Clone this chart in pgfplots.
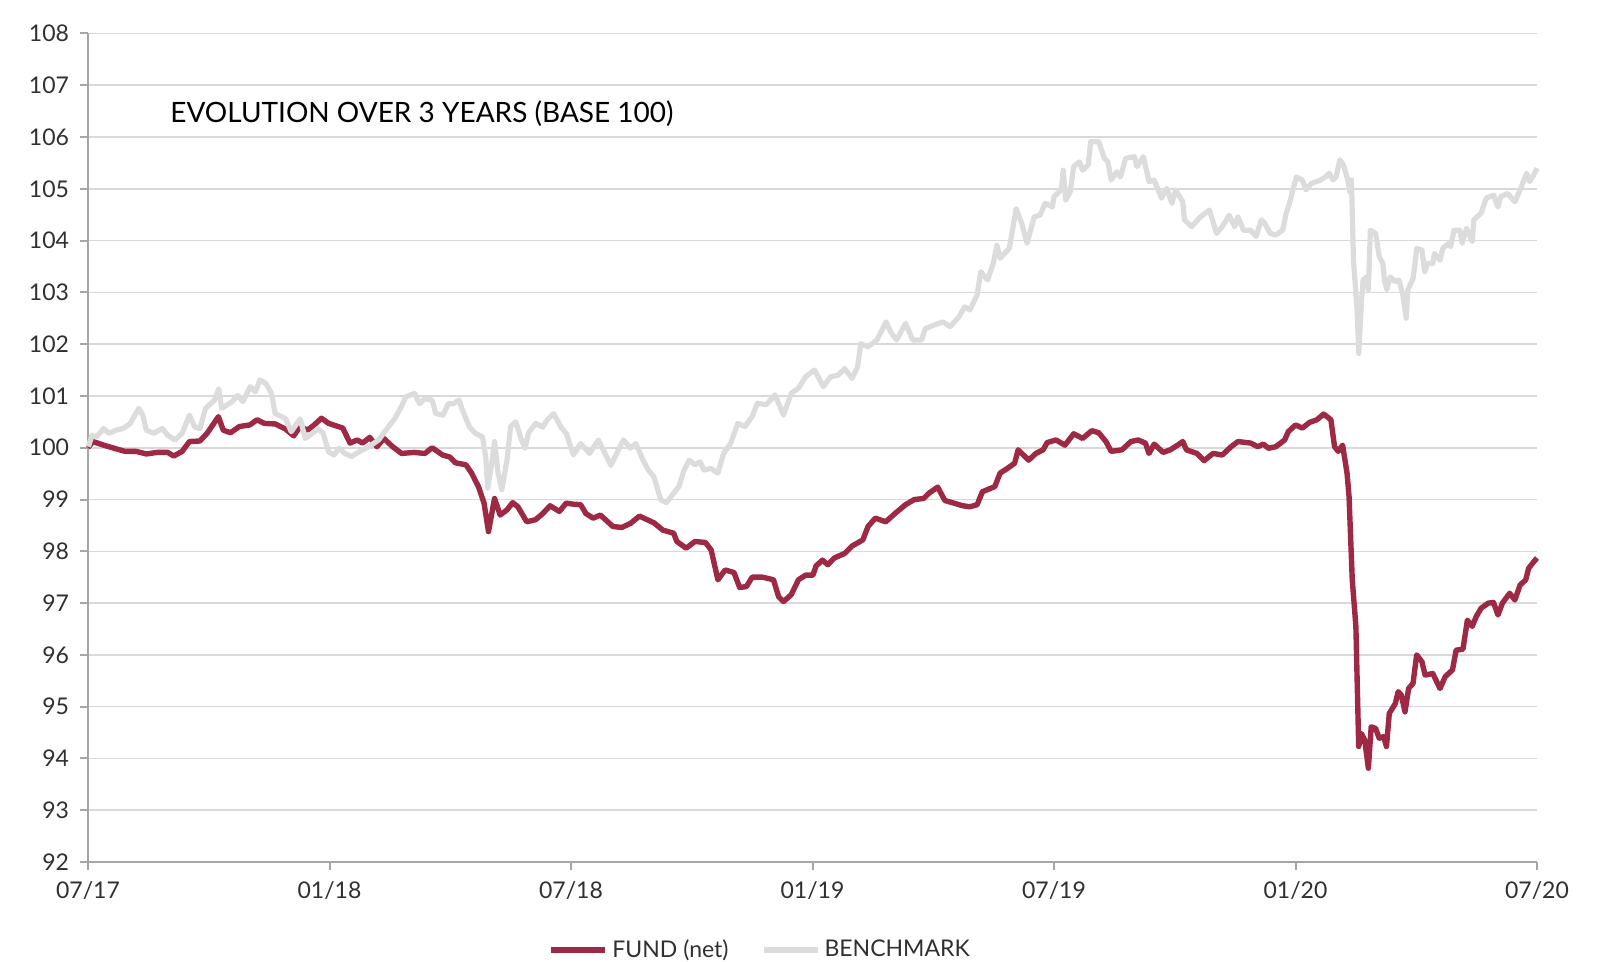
\documentclass[border=0pt]{standalone}
\usepackage{pgfplots}
\pgfplotsset{compat=1.18}
\usepackage{fontspec}
\setmainfont{Lato}
\definecolor{fundc}{HTML}{9E2944}
\definecolor{benchc}{HTML}{DCDCDC}
\definecolor{gridc}{HTML}{D9D9D9}
\definecolor{axc}{HTML}{A6A6A6}
\definecolor{txt}{HTML}{303030}
\begin{document}
\begin{tikzpicture}
\begin{axis}[
  name=ax, at={(0,0)}, anchor=south west,
  scale only axis, width=724.5pt, height=414.25pt,
  xmin=0, xmax=36, ymin=92, ymax=108,
  axis x line=bottom, axis y line=left,
  axis line style={axc, line width=1pt, -},
  xtick={0,6,...,36},
  xticklabels={07/17,01/18,07/18,01/19,07/19,01/20,07/20},
  ytick={92,93,...,108},
  tick style={axc, line width=1pt},
  major tick length=4pt,
  tick align=outside,
  ymajorgrids, grid style={gridc, line width=0.8pt},
  /pgf/number format/assume math mode=true,
  ticklabel style={font=\fontsize{11.5}{13}\selectfont, text=txt},
  yticklabel style={xshift=-2pt},
  xticklabel style={yshift=-2pt},
  clip=false,
  legend columns=2,
  legend style={draw=none, fill=none, at={(0.4645,-0.106)}, anchor=center,
    font=\fontsize{11.5}{13}\selectfont, text=txt,
    /tikz/every even column/.append style={column sep=14pt}},
  legend image code/.code={\draw[#1, line width=3pt] (0pt,0pt) -- (27pt,0pt);},
]
\addplot[fundc, line width=2.7pt, line join=round] coordinates {
(0,100.0)(0.12,100.12)(0.39,100.05)(0.65,99.99)(0.92,99.93)(1.19,99.93)(1.45,99.88)(1.72,99.91)(1.98,99.91)(2.13,99.84)(2.34,99.93)(2.52,100.12)(2.78,100.13)(2.96,100.28)(3.24,100.60)(3.36,100.34)(3.54,100.29)(3.76,100.41)(4.02,100.44)(4.20,100.54)(4.38,100.47)(4.65,100.46)(4.91,100.36)(5.11,100.23)(5.27,100.41)(5.45,100.34)(5.62,100.44)(5.80,100.57)(5.98,100.47)(6.33,100.38)(6.51,100.09)(6.69,100.15)(6.82,100.09)(7.00,100.20)(7.18,100.02)(7.35,100.18)(7.57,100.02)(7.79,99.89)(8.10,99.91)(8.37,99.89)(8.55,100.0)(8.81,99.86)(8.99,99.82)(9.13,99.71)(9.39,99.67)(9.53,99.51)(9.70,99.25)(9.84,98.93)(9.95,98.38)(10.10,99.02)(10.24,98.70)(10.41,98.80)(10.55,98.94)(10.68,98.86)(10.90,98.57)(11.12,98.61)(11.30,98.73)(11.48,98.88)(11.71,98.77)(11.88,98.93)(12.06,98.91)(12.24,98.90)(12.37,98.73)(12.55,98.64)(12.73,98.70)(13.04,98.48)(13.26,98.46)(13.48,98.54)(13.70,98.68)(14.06,98.55)(14.28,98.41)(14.55,98.35)(14.63,98.19)(14.86,98.06)(15.08,98.19)(15.34,98.17)(15.48,98.03)(15.65,97.45)(15.83,97.64)(16.05,97.59)(16.19,97.30)(16.36,97.32)(16.50,97.50)(16.76,97.50)(17.03,97.45)(17.16,97.12)(17.28,97.03)(17.47,97.16)(17.65,97.45)(17.83,97.54)(18.01,97.54)(18.09,97.72)(18.25,97.83)(18.38,97.74)(18.54,97.87)(18.80,97.96)(18.98,98.10)(19.25,98.22)(19.38,98.48)(19.56,98.64)(19.82,98.57)(20.05,98.73)(20.31,98.90)(20.53,99.00)(20.76,99.02)(20.89,99.12)(21.11,99.24)(21.29,98.98)(21.47,98.94)(21.73,98.88)(21.91,98.86)(22.09,98.90)(22.22,99.15)(22.53,99.25)(22.66,99.51)(22.84,99.60)(23.02,99.70)(23.11,99.96)(23.37,99.76)(23.55,99.89)(23.73,99.96)(23.83,100.10)(24.05,100.15)(24.27,100.05)(24.49,100.27)(24.71,100.18)(24.94,100.33)(25.11,100.29)(25.29,100.12)(25.42,99.93)(25.69,99.96)(25.91,100.12)(26.09,100.15)(26.27,100.09)(26.36,99.89)(26.49,100.07)(26.71,99.91)(26.89,99.96)(27.07,100.05)(27.20,100.12)(27.29,99.96)(27.55,99.89)(27.73,99.75)(27.95,99.89)(28.18,99.86)(28.40,100.02)(28.57,100.12)(28.89,100.09)(29.06,100.02)(29.20,100.07)(29.33,99.99)(29.51,100.02)(29.73,100.15)(29.82,100.31)(30.00,100.44)(30.17,100.38)(30.35,100.49)(30.53,100.54)(30.70,100.65)(30.88,100.54)(30.97,100.02)(31.06,99.93)(31.17,100.05)(31.28,99.51)(31.33,99.06)(31.41,97.45)(31.50,96.55)(31.57,94.23)(31.64,94.48)(31.72,94.35)(31.81,93.81)(31.88,94.61)(31.99,94.58)(32.08,94.39)(32.19,94.42)(32.26,94.23)(32.33,94.87)(32.48,95.06)(32.55,95.29)(32.63,95.22)(32.72,94.90)(32.81,95.35)(32.92,95.45)(33.01,96.00)(33.14,95.87)(33.22,95.61)(33.41,95.64)(33.59,95.35)(33.72,95.58)(33.90,95.71)(33.99,96.09)(34.16,96.11)(34.27,96.67)(34.39,96.55)(34.49,96.74)(34.61,96.90)(34.79,97.00)(34.92,97.01)(35.03,96.77)(35.14,97.00)(35.32,97.19)(35.45,97.06)(35.58,97.35)(35.72,97.45)(35.79,97.67)(35.92,97.80)(36.0,97.87)
};
\addlegendentry{FUND (net)}
\addplot[benchc, line width=2.6pt, line join=round] coordinates {
(0.01,100.02)(0.10,100.24)(0.21,100.21)(0.39,100.37)(0.52,100.28)(0.70,100.34)(0.87,100.37)(1.05,100.47)(1.26,100.76)(1.36,100.63)(1.45,100.34)(1.63,100.28)(1.85,100.37)(1.98,100.24)(2.16,100.15)(2.34,100.28)(2.52,100.63)(2.65,100.40)(2.78,100.37)(2.92,100.76)(3.14,100.92)(3.25,101.14)(3.32,100.76)(3.58,100.89)(3.72,101.01)(3.85,100.89)(4.03,101.18)(4.16,101.08)(4.27,101.31)(4.42,101.24)(4.56,101.05)(4.65,100.66)(4.91,100.56)(5.05,100.31)(5.27,100.56)(5.40,100.18)(5.58,100.28)(5.71,100.37)(5.84,100.28)(5.98,99.92)(6.11,99.86)(6.24,99.99)(6.38,99.89)(6.55,99.83)(6.73,99.92)(6.91,99.99)(7.09,100.08)(7.22,100.15)(7.40,100.34)(7.62,100.56)(7.80,100.82)(7.89,100.98)(8.11,101.05)(8.24,100.85)(8.37,100.95)(8.55,100.92)(8.64,100.66)(8.82,100.63)(8.95,100.85)(9.08,100.85)(9.22,100.92)(9.30,100.73)(9.48,100.40)(9.62,100.28)(9.80,100.21)(9.88,99.83)(9.93,99.22)(10.02,99.64)(10.10,100.12)(10.19,99.51)(10.28,99.19)(10.41,99.76)(10.50,100.41)(10.63,100.50)(10.77,100.15)(10.86,99.99)(10.94,100.28)(11.12,100.47)(11.30,100.40)(11.40,100.53)(11.57,100.66)(11.75,100.40)(11.88,100.28)(12.06,99.86)(12.24,100.08)(12.46,99.89)(12.68,100.15)(12.99,99.66)(13.30,100.15)(13.48,99.99)(13.61,100.08)(13.79,99.76)(13.92,99.57)(14.06,99.44)(14.23,98.99)(14.37,98.94)(14.55,99.12)(14.68,99.25)(14.81,99.57)(14.94,99.76)(15.08,99.67)(15.21,99.73)(15.30,99.57)(15.48,99.60)(15.65,99.51)(15.79,99.89)(15.97,100.09)(16.14,100.47)(16.32,100.41)(16.50,100.60)(16.63,100.86)(16.85,100.83)(17.07,101.02)(17.28,100.63)(17.47,101.05)(17.65,101.15)(17.83,101.37)(18.05,101.50)(18.27,101.18)(18.45,101.37)(18.63,101.40)(18.80,101.53)(18.98,101.34)(19.12,101.56)(19.20,102.01)(19.38,101.95)(19.60,102.08)(19.83,102.43)(19.96,102.21)(20.09,102.08)(20.31,102.40)(20.49,102.08)(20.71,102.08)(20.80,102.30)(21.02,102.37)(21.24,102.43)(21.42,102.34)(21.64,102.53)(21.78,102.72)(21.91,102.66)(22.09,102.95)(22.18,103.40)(22.35,103.24)(22.49,103.56)(22.58,103.91)(22.66,103.66)(22.89,103.85)(23.06,104.62)(23.20,104.33)(23.33,103.95)(23.51,104.46)(23.65,104.49)(23.78,104.72)(23.96,104.65)(24.0,104.85)(24.18,104.98)(24.23,105.36)(24.29,104.78)(24.40,104.94)(24.49,105.43)(24.63,105.52)(24.71,105.36)(24.85,105.46)(24.91,105.91)(25.11,105.91)(25.25,105.59)(25.34,105.52)(25.42,105.17)(25.56,105.33)(25.65,105.23)(25.78,105.59)(26.0,105.62)(26.06,105.43)(26.22,105.62)(26.36,105.14)(26.49,105.17)(26.67,104.82)(26.80,105.01)(26.93,104.72)(27.02,104.98)(27.20,104.75)(27.24,104.40)(27.42,104.27)(27.64,104.46)(27.86,104.59)(28.04,104.14)(28.18,104.27)(28.35,104.49)(28.49,104.27)(28.57,104.46)(28.71,104.20)(28.89,104.20)(29.02,104.08)(29.15,104.40)(29.24,104.33)(29.37,104.14)(29.51,104.11)(29.68,104.20)(29.77,104.53)(29.86,104.75)(30.02,105.23)(30.17,105.17)(30.26,104.98)(30.39,105.10)(30.62,105.17)(30.75,105.23)(30.84,105.30)(30.93,105.17)(31.01,105.23)(31.10,105.56)(31.19,105.46)(31.30,105.17)(31.35,104.94)(31.39,105.17)(31.44,103.62)(31.53,102.66)(31.57,101.82)(31.64,102.85)(31.68,103.24)(31.77,103.30)(31.81,103.05)(31.86,104.20)(31.99,104.14)(32.08,103.69)(32.17,103.56)(32.21,103.24)(32.27,103.05)(32.35,103.30)(32.48,103.21)(32.57,103.24)(32.66,102.98)(32.75,102.50)(32.79,103.05)(32.92,103.27)(32.97,103.56)(33.01,103.85)(33.14,103.82)(33.21,103.40)(33.28,103.56)(33.41,103.56)(33.45,103.75)(33.59,103.62)(33.66,103.85)(33.81,103.95)(33.85,103.88)(33.94,104.20)(34.08,104.20)(34.14,103.95)(34.25,104.24)(34.39,103.98)(34.43,104.40)(34.61,104.53)(34.74,104.82)(34.92,104.88)(35.03,104.65)(35.10,104.85)(35.27,104.91)(35.45,104.75)(35.58,104.98)(35.74,105.30)(35.82,105.14)(35.94,105.30)(36.0,105.40)
};
\addlegendentry{BENCHMARK}
\node[anchor=west, font=\fontsize{14}{16}\selectfont, text=black] at (axis cs:1.87,106.46) {EVOLUTION OVER 3 YEARS (BASE 100)};
\end{axis}
\pgfresetboundingbox
\path (-44pt,-50pt) rectangle (755.5pt,431pt);
\end{tikzpicture}
\end{document}
